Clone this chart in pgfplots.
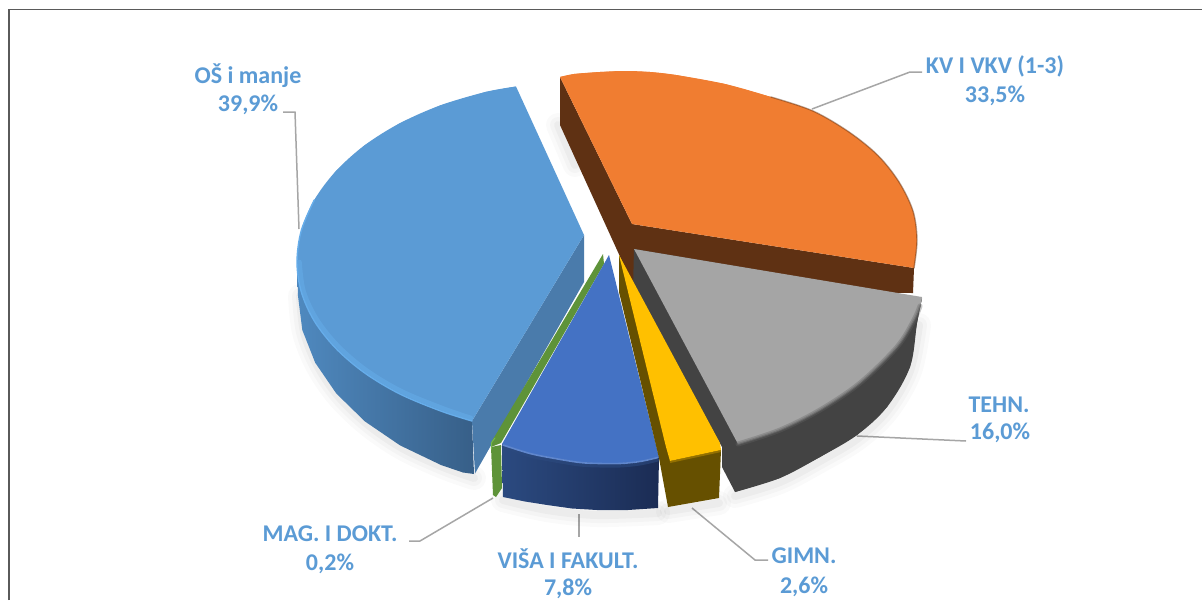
\documentclass[border=0pt]{standalone}
\usepackage{pgfplots}
\pgfplotsset{compat=1.18}
\usepackage{fontspec}
\setmainfont{Carlito}
\definecolor{lab}{HTML}{5B9BD5}
\definecolor{lead}{HTML}{A6A6A6}
\definecolor{frm}{HTML}{5A5A5A}
\definecolor{cblue}{HTML}{5B9BD5}
\definecolor{cblueIn}{HTML}{4A7BAB}
\definecolor{cblueL}{HTML}{4F89BF}
\definecolor{cblueR}{HTML}{375F88}
\definecolor{cblueRim}{HTML}{66ADEA}
\definecolor{corange}{HTML}{F07D31}
\definecolor{cbrown}{HTML}{5F3113}
\definecolor{cgrey}{HTML}{A5A5A5}
\definecolor{cdark}{HTML}{434343}
\definecolor{cyel}{HTML}{FFC000}
\definecolor{colive}{HTML}{665000}
\definecolor{croyal}{HTML}{4472C4}
\definecolor{croyL}{HTML}{2B4A80}
\definecolor{croyR}{HTML}{1B2C54}
\definecolor{cgreen}{HTML}{5E9339}
\definecolor{cgreenL}{HTML}{75B84A}
\pgfplotsset{
  poly/.style={sharp plot,draw=none,no markers},
  arcfill/.style={smooth,tension=0.55,draw=none,no markers},
  rim/.style={smooth,tension=0.55,no markers,line cap=round,line join=round,fill=none},
  leader/.style={sharp plot,no markers,draw=lead,line width=1.5pt,fill=none},
}
\newcommand\Sh[1]{%
  \addplot[rim,draw=black,draw opacity=.018,line width=24pt] coordinates {#1};
  \addplot[rim,draw=black,draw opacity=.025,line width=16pt] coordinates {#1};
  \addplot[rim,draw=black,draw opacity=.03,line width=8pt] coordinates {#1};
}
\tikzset{lbl/.style={font=\fontsize{24}{24}\selectfont\bfseries,text=lab,anchor=center,inner sep=0pt}}
\begin{document}
\begin{tikzpicture}
\begin{axis}[scale only axis,width=1202pt,height=600pt,xmin=0,xmax=1202,ymin=0,ymax=600,y dir=reverse,
  hide axis,clip=true]
% background and frame
\addplot[poly,fill=white] coordinates {(0,0)(1202,0)(1202,600)(0,600)} -- cycle;
\addplot[sharp plot,no markers,draw=frm,line width=1.6pt] coordinates {(9,600)(9,9.5)(1202,9.5)};

% leader lines
\addplot[leader] coordinates {(283,112)(295,112)(299,229)};
\addplot[leader] coordinates {(922,72)(910,72)(812,109)};
\addplot[leader] coordinates {(857,436)(966,441)};
\addplot[leader] coordinates {(692,508)(755,560)(768,560)};
\addplot[leader] coordinates {(493,498)(420,541)(409,541)};
\addplot[leader] coordinates {(579,514)(579,537)};

% shadows
\Sh{(300,296)(304,332)(317,365)(338,396)(367,424)(402,448)(443,467)(474,478)}
\Sh{(503,500)(547,510)(597,515)(658,513)}
\Sh{(668,511)(719,503)}
\Sh{(735,496)(780,482)(820,461)(857,439)(887,411)(910,371)(919,325)}
\Sh{(558,125)(575,165)}

% blue slice: side, inner face, top
\addplot[poly,left color=cblueL,right color=cblueR] coordinates {
 (297,262)(298,296)(302.3,330)(315.2,362.7)(336.3,393.5)(364.9,421.4)(400.1,445.4)(441,465)(463,472.5)(474,474)
 (472,421)(467,419)(440.5,411)(399.5,394)(364.2,372.6)(335.5,348)(314.2,320.8)(301.3,292)} -- cycle;
\addplot[poly,fill=cblueIn] coordinates {(584,235)(584,282)(475,473.5)(472,421)} -- cycle;
\addplot[poly,fill=cblue] coordinates {
 (516,86.5)(584,235)(472,421)(467.2,419.2)(440.5,410.9)(399.5,393.8)(364.2,372.6)(335.5,348)(314.2,320.8)(301.3,291.9)
 (297,262)(301.3,230.5)(314.2,200.1)(335.5,171.5)(364.2,145.6)(399.5,123.4)(440.5,105.3)(485.8,91.9)} -- cycle;
\addplot[arcfill,fill=cblue] coordinates {
 (516,86.5)(485.8,91.9)(440.5,105.3)(399.5,123.4)(364.2,145.6)(335.5,171.5)(314.2,200.1)(301.3,230.5)(297,262)(301.3,291.9)(314.2,320.8)(335.5,348)(364.2,372.6)(399.5,393.8)(440.5,410.9)(472,421)};
\addplot[rim,draw=cblueRim,draw opacity=.5,line width=4.5pt] coordinates {(299.5,262)(303.5,291)(316.5,319)(337.5,345.5)(366,370)(401,391)(442,408)(471,418)};
\addplot[rim,draw=cblueRim,line width=1.4pt] coordinates {(314.2,200.1)(301.3,230.5)(297,262)(301.3,291.9)(314.2,320.8)(335.5,348)(364.2,372.6)(399.5,393.8)(440.5,410.9)(472,421)};

% orange slice
\addplot[poly,fill=cbrown] coordinates {(560,77)(560,125)(633,285)(633,292)(913,293)(914,268)(632,224)} -- cycle;
\addplot[poly,fill=corange] coordinates {
 (560,77)(574,74)(600,72)(625,71)(650,72)(676,75)(725,84)(771,97)(813,111)(849,132)(878,155.5)(899,182)(913,211)(917,240)(914,268)(632,224)} -- cycle;
\addplot[arcfill,fill=corange] coordinates {(560,77)(574,74)(600,72)(625,71)(650,72)(676,75)(725,84)(771,97)(813,111)(849,132)(878,155.5)(899,182)(913,211)(917,240)(914,268)};
\addplot[rim,draw=cbrown,draw opacity=.45,line width=1.4pt] coordinates {(771,97)(813,111)(849,132)(878,155.5)(899,182)(913,211)(917,240)(914,268)};

% grey slice
\addplot[poly,fill=cdark] coordinates {(634,249)(633,289)(722,447)(722,467)(735,492)(780,478)(820,457)(857,435)(887,407)(910,367)(917,323)(922,298)} -- cycle;
\addplot[arcfill,fill=cdark] coordinates {(735,492)(780,478)(820,457)(857,435)(887,407)(910,367)(917,323)(922,298)};
\addplot[poly,fill=cgrey] coordinates {(634,249)(922,297)(920,306)(914,320)(897,347)(860,383)(820,410)(780,430)(738,444)} -- cycle;
\addplot[arcfill,fill=cgrey] coordinates {(922,297)(920,306)(914,320)(897,347)(860,383)(820,410)(780,430)(738,444)};
\addplot[rim,draw=cgrey!60!black,draw opacity=.35,line width=5pt] coordinates {(920,306)(914,320)(897,347)(860,383)(820,410)(780,430)(738,444)};
\addplot[rim,draw=cgrey!65!black,draw opacity=.6,line width=2pt] coordinates {(920,306)(914,320)(897,347)(860,383)(820,410)(780,430)(738,444)};

% green slice
\addplot[poly,fill=cgreen] coordinates {(491,447)(493,495)(496,497)(502,488)(501,445)} -- cycle;
\addplot[poly,fill=cgreen] coordinates {(603,254)(604,264)(501,443)(491,447)(492,441)} -- cycle;
\addplot[rim,draw=cgreenL,line width=1pt] coordinates {(495,438)(491.5,443)(491.5,449)};

% royal blue slice
\addplot[poly,left color=croyL,right color=croyR] coordinates {
 (502,444)(503,497)(525,501.5)(547,505)(572,508.5)(597,510)(628,510)(658,508)(659,457)} -- cycle;
\addplot[poly,fill=croyal] coordinates {(609,255)(659,457)(640,461)(620,463)(600,463)(580,462)(555,458)(530,453)(502,444)} -- cycle;
\addplot[arcfill,fill=croyal] coordinates {(659,457)(640,461)(620,463)(600,463)(580,462)(555,458)(530,453)(502,444)};
\addplot[rim,draw=croyal!65!black,draw opacity=.6,line width=3pt] coordinates {(503,447)(530,456)(555,461)(580,465)(600,466)(620,466)(640,464)(658,460)};
\addplot[rim,draw=croyal!85!white,line width=1.6pt] coordinates {(503,445)(530,453.5)(555,458.5)(580,462.5)(600,463.5)(620,463.5)(640,461.5)(658,457.5)};

% yellow slice
\addplot[poly,fill=colive] coordinates {(619,255)(619,292)(659,458)(668,507)(719,498)(721,450)} -- cycle;
\addplot[poly,fill=cyel] coordinates {(619,255)(720,443)(721,450)(670,461)(666,447)} -- cycle;
\addplot[sharp plot,no markers,draw=cyel!70!black,draw opacity=.6,line width=2pt] coordinates {(670,462)(721,451)};

% labels
\node[lbl] at (axis cs:248,76) {OŠ i manje};
\node[lbl] at (axis cs:248,105) {39,9\%};
\node[lbl] at (axis cs:995,66) {KV I VKV (1-3)};
\node[lbl] at (axis cs:995,96) {33,5\%};
\node[lbl] at (axis cs:999,405) {TEHN.};
\node[lbl] at (axis cs:1000,433) {16,0\%};
\node[lbl] at (axis cs:804,556) {GIMN.};
\node[lbl] at (axis cs:804,587) {2,6\%};
\node[lbl] at (axis cs:568,559) {VIŠA I FAKULT.};
\node[lbl] at (axis cs:568,589) {7,8\%};
\node[lbl] at (axis cs:330,534) {MAG. I DOKT.};
\node[lbl] at (axis cs:330,564) {0,2\%};
\end{axis}
\end{tikzpicture}
\end{document}
